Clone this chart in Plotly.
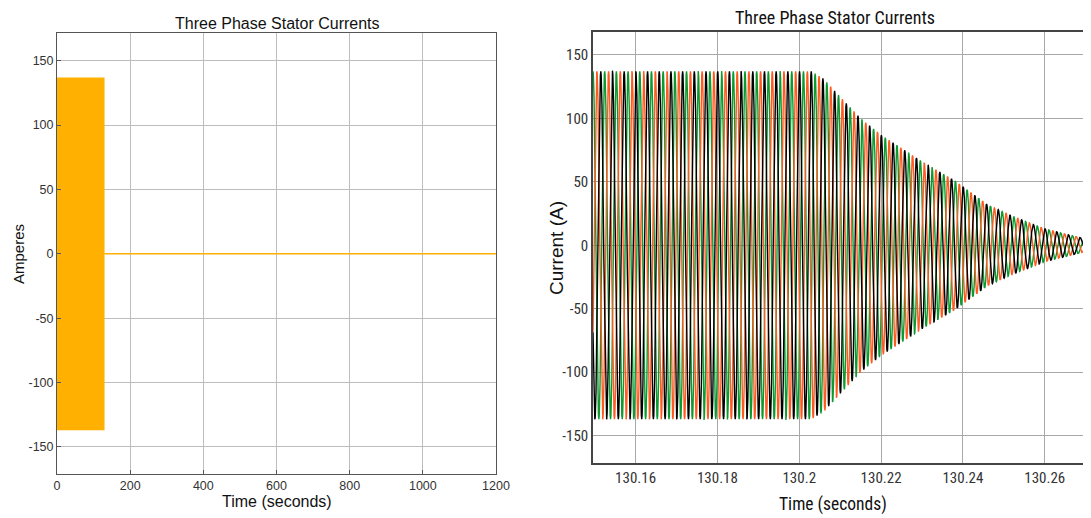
import numpy as np
import plotly.graph_objects as go

# ---------------- data ----------------
# Left panel: full-run envelope of the stator currents
left_on_time = [0, 130]          # seconds where the motor is energised
left_amp = 137                   # peak current (A)
left_off_time = [130, 1200]      # flat zero current afterwards
left_off_val = [0, 0]

# Right panel: zoom on the switch-off transient
env_time = [130.1496, 130.203, 130.206, 130.210, 130.215, 130.220, 130.230,
            130.238, 130.246, 130.252, 130.260, 130.2713]
env_amp = [137, 137, 131, 117, 100, 87, 66, 51, 32, 23, 13, 4]
supply_freq = 350.0              # Hz (counted cycles)
phase_names = ["Phase A", "Phase B", "Phase C"]
phase_shift_deg = [0, -120, -240]
phase_colors = ["#0A9A2E", "#FF5A1F", "#000000"]

left_xticks = [0, 200, 400, 600, 800, 1000, 1200]
yticks = [-150, -100, -50, 0, 50, 100, 150]
ytick_labels = ["-150", "-100", "-50", "0", "50", "100", "150"]
right_xticks = [130.16, 130.18, 130.2, 130.22, 130.24, 130.26]
right_xticklabels = ["130.16", "130.18", "130.2", "130.22", "130.24", "130.26"]

# ---------------- figure ----------------
OFF = 8                      # default body margin of the page
W, H = 1091 - OFF, 518 - OFF


def px_x(p):
    return (p - OFF) / W


def px_y(p):
    return 1 - (p - OFF) / H


fig = go.Figure()

# left panel
fig.add_trace(go.Scatter(x=left_on_time, y=[left_amp] * len(left_on_time),
                         mode="lines", line=dict(color="#FFB000", width=0),
                         xaxis="x", yaxis="y", showlegend=False, hoverinfo="skip"))
fig.add_trace(go.Scatter(x=left_on_time, y=[-left_amp] * len(left_on_time),
                         mode="lines", line=dict(color="#FFB000", width=0),
                         fill="tonexty", fillcolor="#FFB000",
                         xaxis="x", yaxis="y", showlegend=False, hoverinfo="skip"))
fig.add_trace(go.Scatter(x=left_off_time, y=left_off_val, mode="lines",
                         line=dict(color="#FFB000", width=1.5),
                         xaxis="x", yaxis="y", showlegend=False))

# right panel
t = np.linspace(env_time[0], env_time[-1], 24000)
env = np.interp(t, env_time, env_amp)
for name, sh, col in zip(phase_names, phase_shift_deg, phase_colors):
    y = env * np.cos(2 * np.pi * supply_freq * (t - env_time[0]) + np.deg2rad(sh))
    fig.add_trace(go.Scatter(x=t, y=y, mode="lines", name=name,
                             line=dict(color=col, width=1.4),
                             xaxis="x2", yaxis="y2", showlegend=False))

grid_l = "#BDBDBD"
grid_r = "#A8A8A8"
font_l = "Liberation Sans, Arial, sans-serif"
font_r = "Liberation Sans Narrow, Arial Narrow, Roboto Condensed, Liberation Sans, sans-serif"


def label(text, x, y, size, family, angle=0):
    return dict(text=text, x=px_x(x), y=px_y(y), xref="paper", yref="paper",
                showarrow=False, xanchor="center", yanchor="middle", textangle=angle,
                font=dict(family=family, size=size, color="#111"))


fig.update_layout(
    width=W, height=H,
    margin=dict(l=0, r=0, t=0, b=0, autoexpand=False),
    paper_bgcolor="white", plot_bgcolor="white",
    xaxis=dict(domain=[px_x(57), px_x(496)], anchor="y", range=[0, 1200],
               automargin=False,
               tickvals=left_xticks, ticks="inside", ticklen=4, tickcolor="#555",
               showgrid=True, gridcolor=grid_l, gridwidth=1, zeroline=False,
               showline=True, linecolor="#555", linewidth=1, mirror=True,
               tickfont=dict(family=font_l, size=12.5, color="#333")),
    yaxis=dict(domain=[px_y(474), px_y(33)], anchor="x", range=[-171, 171.5],
               automargin=False,
               tickvals=yticks, ticktext=ytick_labels, ticks="inside", ticklen=4,
               tickcolor="#555",
               showgrid=True, gridcolor=grid_l, gridwidth=1, zeroline=False,
               showline=True, linecolor="#555", linewidth=1, mirror=True,
               tickfont=dict(family=font_l, size=12.5, color="#333")),
    xaxis2=dict(domain=[px_x(593), 1.0], anchor="y2", range=[130.1496, 130.2713],
                automargin=False,
                tickvals=right_xticks, ticktext=right_xticklabels,
                ticks="", showgrid=True, gridcolor=grid_r, gridwidth=1,
                zeroline=False, showline=True, linecolor="#444", linewidth=1.5,
                mirror=True,
                tickfont=dict(family=font_r, size=15, color="#333")),
    yaxis2=dict(domain=[px_y(463), px_y(32)], anchor="x2", range=[-171.5, 168],
                automargin=False,
                tickvals=yticks, ticktext=ytick_labels, ticks="", showgrid=True,
                gridcolor=grid_r,
                gridwidth=1, zeroline=False, showline=True, linecolor="#444",
                linewidth=1.5, mirror=False,
                tickfont=dict(family=font_r, size=15, color="#333")),
    annotations=[
        label("Three Phase Stator Currents", 277, 23, 16, font_l),
        label("Time (seconds)", 277, 501, 16, font_l),
        label("Amperes", 18, 254, 15, font_l, angle=-90),
        label("Three Phase Stator Currents", 835, 17, 18, font_r),
        label("Time (seconds)", 833, 504, 17.5, font_r),
        label("Current (A)", 556, 248, 19, font_l, angle=-90),
    ],
)

fig.write_html("out.html")
